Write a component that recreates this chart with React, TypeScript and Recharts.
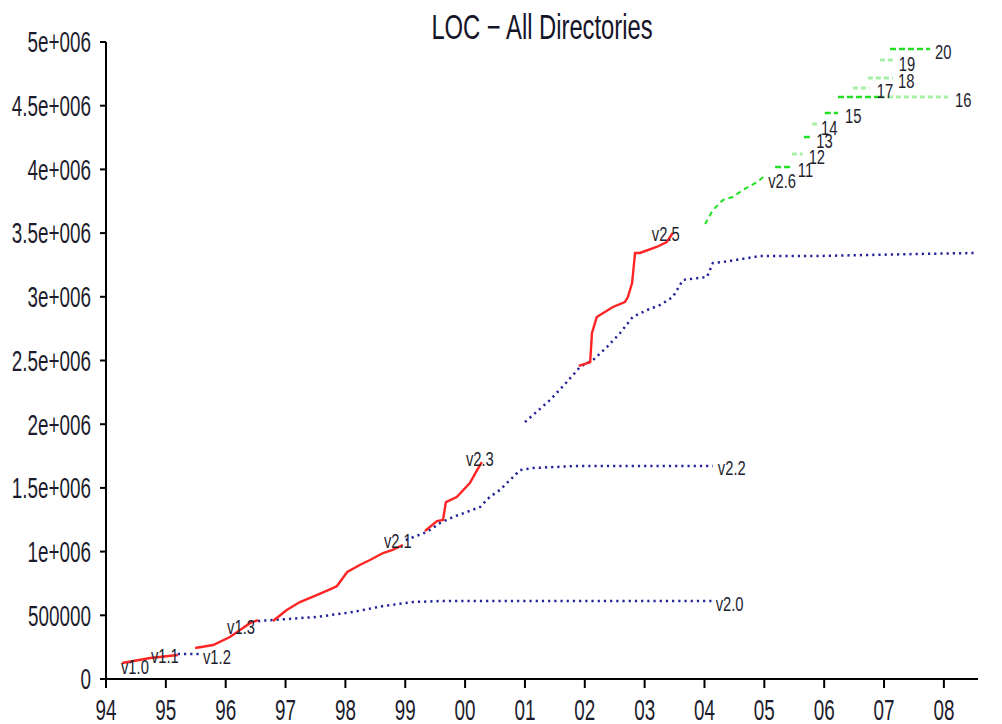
import { LineChart, Line, XAxis, YAxis } from "recharts";

type Pt = [number, number];

const YEAR_TICKS = [1994, 1995, 1996, 1997, 1998, 1999, 2000, 2001, 2002, 2003, 2004, 2005, 2006, 2007, 2008];
const LOC_TICKS = [0, 500000, 1000000, 1500000, 2000000, 2500000, 3000000, 3500000, 4000000, 4500000, 5000000];

// development trees (red)
const v10: Pt[] = [[1994.2, 105000]];
const v11: Pt[] = [[1994.27, 126000], [1994.74, 165000], [1995.2, 188000]];
const v13: Pt[] = [[1995.49, 243000], [1995.79, 267000], [1996.07, 330000], [1996.24, 385000], [1996.41, 440000], [1996.54, 463000]];
const v21: Pt[] = [
  [1996.79, 455000], [1997.02, 542000], [1997.24, 604000], [1997.52, 659000], [1997.79, 714000], [1997.86, 730000],
  [1998.03, 840000], [1998.24, 895000], [1998.41, 934000], [1998.63, 989000], [1998.79, 1013000], [1998.96, 1052000],
];
const v23: Pt[] = [
  [1999.33, 1162000], [1999.53, 1240000], [1999.63, 1248000], [1999.68, 1389000], [1999.86, 1428000],
  [2000.08, 1538000], [2000.2, 1640000], [2000.28, 1703000],
];
const v25: Pt[] = [
  [2001.9, 2457000], [2002.09, 2488000], [2002.12, 2716000], [2002.2, 2841000], [2002.47, 2920000], [2002.67, 2959000],
  [2002.72, 2998000], [2002.79, 3108000], [2002.84, 3344000], [2002.92, 3344000], [2003.2, 3391000], [2003.37, 3430000],
  [2003.47, 3501000],
];

// stable trees (blue dotted)
const v12: Pt[] = [[1995.2, 196000], [1995.57, 196000]];
const v20: Pt[] = [
  [1996.54, 455000], [1997.52, 487000], [1998.13, 526000], [1998.63, 573000], [1999.13, 604000], [1999.58, 612000],
  [2004.12, 612000],
];
const v22: Pt[] = [
  [1999.01, 1091000], [1999.36, 1154000], [1999.58, 1224000], [1999.8, 1272000], [2000.03, 1311000], [2000.25, 1350000],
  [2000.41, 1428000], [2000.58, 1483000], [2000.75, 1562000], [2000.92, 1640000], [2001.13, 1656000], [2001.87, 1672000],
  [2004.14, 1672000],
];
const v24: Pt[] = [
  [2001.0, 2017000], [2001.42, 2190000], [2001.7, 2331000], [2001.92, 2449000], [2002.14, 2504000], [2002.37, 2606000],
  [2002.59, 2716000], [2002.8, 2841000], [2003.04, 2896000], [2003.26, 2936000], [2003.47, 2998000], [2003.64, 3132000],
  [2004.04, 3155000], [2004.14, 3265000], [2004.31, 3273000], [2004.93, 3320000], [2005.88, 3320000], [2007.55, 3336000],
  [2008.52, 3344000],
];

// 2.6 series (green)
const v26: Pt[] = [
  [2004.01, 3571000], [2004.14, 3681000], [2004.31, 3760000], [2004.47, 3783000], [2004.64, 3838000], [2004.88, 3901000],
  [2004.98, 3940000],
];
const v2611: Pt[] = [[2005.18, 4019000], [2005.46, 4019000]];
const v2612: Pt[] = [[2005.46, 4121000], [2005.64, 4121000]];
const v2613: Pt[] = [[2005.66, 4254000], [2005.8, 4254000]];
const v2614: Pt[] = [[2005.8, 4356000], [2005.88, 4356000]];
const v2615: Pt[] = [[2006.01, 4443000], [2006.23, 4443000]];
const v2616: Pt[] = [[2006.23, 4568000], [2006.93, 4568000], [2008.07, 4568000]];
const v2617: Pt[] = [[2006.48, 4639000], [2006.76, 4639000]];
const v2618: Pt[] = [[2006.73, 4717000], [2007.15, 4717000]];
const v2619: Pt[] = [[2006.93, 4859000], [2007.18, 4859000]];
const v2620: Pt[] = [[2007.1, 4945000], [2007.77, 4945000]];

// Liberation Sans squeezed horizontally stands in for a narrow face
const FONT = "'Liberation Sans', Arial, sans-serif";
const SQUEEZE = 0.82;
const RED = "#ff2424";
const BLUE = "#24249a";
const GREEN = "#22e022";
const GREEN_PALE = "#a6f0a6";

type Style = { stroke: string; width: number; dash?: string };
const DEV: Style = { stroke: RED, width: 2.4 };
const STABLE: Style = { stroke: BLUE, width: 2.5, dash: "2.2 4" };
const V26: Style = { stroke: GREEN, width: 2, dash: "5 4" };
const BRIGHT: Style = { stroke: GREEN, width: 2.5, dash: "6 3" };
const PALE: Style = { stroke: GREEN_PALE, width: 3, dash: "5 3" };

type Series = {
  id: string;
  data: Pt[];
  style: Style;
  label?: string;
  dx?: number;
  dy?: number;
  anchor?: "start" | "middle" | "end";
};

const SERIES: Series[] = [
  { id: "v20", data: v20, style: STABLE, label: "v2.0", dx: 4, dy: 2 },
  { id: "v22", data: v22, style: STABLE, label: "v2.2", dx: 5, dy: 1 },
  { id: "v24", data: v24, style: STABLE, label: "v2.4", dx: 5, dy: 2 },
  { id: "v12", data: v12, style: STABLE, label: "v1.2", dx: 3, dy: 2 },
  { id: "v10", data: v10, style: DEV, label: "v1.0", dx: 3, dy: 1 },
  { id: "v11", data: v11, style: DEV, label: "v1.1", dx: -13, dy: 0, anchor: "middle" },
  { id: "v13", data: v13, style: DEV, label: "v1.3", dx: -17, dy: 6, anchor: "middle" },
  { id: "v21", data: v21, style: DEV, label: "v2.1", dx: -5, dy: -5, anchor: "middle" },
  { id: "v23", data: v23, style: DEV, label: "v2.3", dx: -2, dy: -4, anchor: "middle" },
  { id: "v25", data: v25, style: DEV, label: "v2.5", dx: -7, dy: 0, anchor: "middle" },
  { id: "v26", data: v26, style: V26, label: "v2.6", dx: 5, dy: 3 },
  { id: "v2611", data: v2611, style: BRIGHT, label: "11", dx: 6, dy: 2 },
  { id: "v2612", data: v2612, style: PALE, label: "12", dx: 6, dy: 2 },
  { id: "v2613", data: v2613, style: BRIGHT, label: "13", dx: 4, dy: 3 },
  { id: "v2614", data: v2614, style: PALE, label: "14", dx: 4, dy: 3 },
  { id: "v2615", data: v2615, style: BRIGHT, label: "15", dx: 7, dy: 2 },
  { id: "v2616a", data: v2616.slice(0, 2), style: BRIGHT },
  { id: "v2616b", data: v2616.slice(1), style: PALE, label: "16", dx: 7, dy: 2 },
  { id: "v2617", data: v2617, style: PALE, label: "17", dx: 7, dy: 2 },
  { id: "v2618", data: v2618, style: PALE, label: "18", dx: 5, dy: 2 },
  { id: "v2619", data: v2619, style: PALE, label: "19", dx: 4, dy: 3 },
  { id: "v2620", data: v2620, style: BRIGHT, label: "20", dx: 5, dy: 2 },
];

const fmtYear = (v: number) => String(v % 100).padStart(2, "0");
const fmtLoc = (v: number) => (v === 0 ? "0" : v < 1000000 ? String(v) : `${v / 1000000}e+006`);

const XTick = ({ x, y, payload }: any) => (
  <g transform={`translate(${x},${y}) scale(${SQUEEZE},1.28)`}>
    <text textAnchor="middle" y={25} fontSize={23} fontFamily={FONT} fill="#1c1c2c">
      {fmtYear(payload.value)}
    </text>
  </g>
);

const YTick = ({ x, y, payload }: any) => (
  <g transform={`translate(${x},${y}) scale(${SQUEEZE},1.25)`}>
    <text textAnchor="end" dy="0.36em" fontSize={23} fontFamily={FONT} fill="#1c1c2c">
      {fmtLoc(payload.value)}
    </text>
  </g>
);

const endLabel = (s: Series) => (props: any) => {
  const { cx, cy, index } = props;
  if (!s.label || index !== s.data.length - 1 || cx == null) return <g key={`${s.id}-${index}`} />;
  return (
    <g key={`${s.id}-${index}`} transform={`translate(${cx + (s.dx ?? 4)},${cy + (s.dy ?? 0)}) scale(${SQUEEZE},1.17)`}>
      <text textAnchor={s.anchor ?? "start"} dy="0.36em" fontSize={18} fontFamily={FONT} fill="#1e1e2e">
        {s.label}
      </text>
    </g>
  );
};

export default function App() {
  return (
    <div style={{ position: "relative", width: 1002, height: 724 }}>
      <style>{"body{margin:0;overflow:hidden}"}</style>
      <LineChart width={1002} height={724} margin={{ top: 42, right: 24, bottom: 0, left: 0 }}>
        <XAxis
          type="number"
          dataKey="x"
          domain={[1994, 2008.57]}
          ticks={YEAR_TICKS}
          allowDataOverflow
          height={45}
          tickSize={9}
          tickMargin={0}
          tick={<XTick />}
          axisLine={{ stroke: "#000", strokeWidth: 2 }}
          tickLine={{ stroke: "#000", strokeWidth: 2 }}
        />
        <YAxis
          type="number"
          dataKey="y"
          domain={[0, 5000000]}
          ticks={LOC_TICKS}
          allowDataOverflow
          width={106}
          tickSize={6}
          tickMargin={9}
          tick={<YTick />}
          axisLine={{ stroke: "#000", strokeWidth: 2 }}
          tickLine={{ stroke: "#000", strokeWidth: 2 }}
        />
        {SERIES.map((s) => (
          <Line
            key={s.id}
            data={s.data.map(([x, y]) => ({ x, y }))}
            dataKey="y"
            type="linear"
            stroke={s.style.stroke}
            strokeWidth={s.style.width}
            strokeDasharray={s.style.dash}
            dot={endLabel(s)}
            activeDot={false}
            isAnimationActive={false}
          />
        ))}
      </LineChart>
      <svg width={1002} height={60} style={{ position: "absolute", left: 0, top: 0, pointerEvents: "none" }}>
        <g transform={`translate(542,39) scale(${SQUEEZE},1.22)`}>
          <text textAnchor="middle" fontSize={29} fontFamily={FONT} fill="#15152a">
            LOC − All Directories
          </text>
        </g>
      </svg>
    </div>
  );
}
